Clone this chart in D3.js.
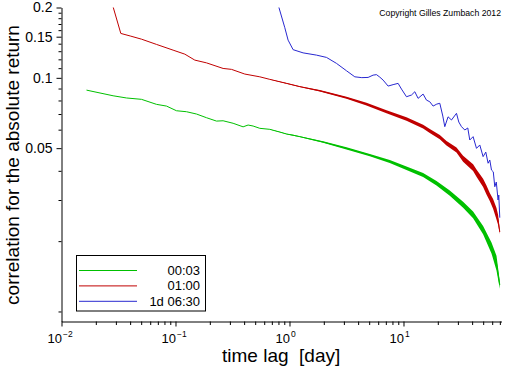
<!DOCTYPE html>
<html>
<head>
<meta charset="utf-8">
<script src="https://cdn.jsdelivr.net/npm/d3@7"></script>
<style>
  body { margin: 0; background: #fff; }
  svg { display: block; }
  text { font-family: "Liberation Sans", Arial, sans-serif; fill: #000; }
</style>
</head>
<body>
<div id="chart"></div>
<script>
// time lag in days, correlation of |r|, and spread of the noisy band (in %)
const lag0003 = [0.01657, 0.02836, 0.03717, 0.05031, 0.06813, 0.0834, 0.1020, 0.1249, 0.1528, 0.187, 0.2289, 0.2616, 0.3201, 0.3917, 0.4334, 0.4794, 0.549, 0.6718, 0.8222, 0.9412, 1.0755, 1.231, 1.971, 3.162, 5.063, 7.58, 10.62, 14.86, 19.48, 25.47, 33.33, 40.79, 49.92, 59.15, 65.43, 69.93];
const corr0003 = [0.0886, 0.0838, 0.0820, 0.0809, 0.0770, 0.0757, 0.0723, 0.0716, 0.0700, 0.0675, 0.0653, 0.0655, 0.0639, 0.0617, 0.0628, 0.0622, 0.0608, 0.0602, 0.0586, 0.0575, 0.0568, 0.0560, 0.0531, 0.0499, 0.0467, 0.0438, 0.0410, 0.0384, 0.0354, 0.0321, 0.0286, 0.0259, 0.0223, 0.0187, 0.0161, 0.0130];
const spread0003 = [0, 0, 0, 0, 0, 0, 0, 0, 0, 0, 0, 0, 0, 0, 0, 0, 0, 0.2, 0.3, 0.3, 0.4, 0.4, 0.7, 1.0, 1.2, 1.5, 1.7, 2.0, 2.3, 2.6, 3.0, 3.4, 4.2, 5.5, 7.5, 4];

const lag0100 = [0.0268, 0.03313, 0.04054, 0.05031, 0.06813, 0.09526, 0.1207, 0.1477, 0.187, 0.2616, 0.3099, 0.4054, 0.549, 0.6718, 0.9412, 1.231, 1.844, 3.162, 4.736, 7.094, 10.62, 14.86, 17.01, 20.82, 23.84, 29.17, 33.33, 40.79, 43.69, 49.92, 53.47, 57.15, 61.09, 65.43, 67.56, 69.93];
const corr0100 = [0.2213, 0.1549, 0.1508, 0.1464, 0.1390, 0.1314, 0.1263, 0.1191, 0.1159, 0.1097, 0.1087, 0.1038, 0.1010, 0.0985, 0.0947, 0.0917, 0.0880, 0.0822, 0.0772, 0.0716, 0.0666, 0.0618, 0.0592, 0.0558, 0.0525, 0.0491, 0.0450, 0.0413, 0.0391, 0.0355, 0.0331, 0.0309, 0.0289, 0.0262, 0.0247, 0.0219];
const spread0100 = [0, 0, 0, 0, 0, 0, 0, 0, 0, 0, 0, 0, 0, 0.2, 0.3, 0.4, 0.7, 1.0, 1.3, 1.5, 1.7, 1.8, 2.0, 2.1, 2.3, 2.4, 3.0, 3.4, 3.6, 4.2, 4.5, 4.1, 4.9, 5.8, 5, 2];

const lag0630 = [0.774, 0.9095, 0.9721, 1.0755, 1.316, 1.725, 2.111, 2.584, 3.162, 3.74, 4.307, 4.892, 5.411, 5.797, 6.197, 6.624, 7.327, 8.105, 8.967, 9.605, 10.62, 11.75, 12.57, 13.43, 14.86, 15.91, 17.01, 18.18, 19.6, 20.82, 22.12, 23.03, 24.61, 26.37, 29.17, 30.55, 32.27, 34.49, 36.64, 38.15, 40.79, 43.69, 46.69, 49.92, 52.72, 55.23, 57.15, 59.15, 61.33, 63.23, 65.16, 67.56, 68.55, 69.93];
const corr0630 = [0.2149, 0.1639, 0.1450, 0.1320, 0.1279, 0.1251, 0.1223, 0.1153, 0.1072, 0.1010, 0.1002, 0.1004, 0.1027, 0.1032, 0.1007, 0.0978, 0.0922, 0.0935, 0.0947, 0.0895, 0.0830, 0.0844, 0.0872, 0.0817, 0.0852, 0.0803, 0.0790, 0.0757, 0.0772, 0.0778, 0.0686, 0.0618, 0.0681, 0.0660, 0.0705, 0.0647, 0.0618, 0.0598, 0.0610, 0.0542, 0.0560, 0.0499, 0.0516, 0.0460, 0.0481, 0.0431, 0.0445, 0.0403, 0.0396, 0.0342, 0.0358, 0.0300, 0.0315, 0.0252];

const seriesNames = ["00:03", "01:00", "1d 06:30"];
const seriesColors = ["#00c000", "#c00000", "#2828d0"];

const yLabelTicks = [0.05, 0.1, 0.15, 0.2];
const yMinorTicks = d3.range(1, 21).map(i => i / 100);
const xDecades = [-2, -1, 0, 1];

const width = 512, height = 366;
const svg = d3.select("#chart").append("svg").attr("width", width).attr("height", height);

const x = d3.scaleLog().domain([0.01, 72.4]).range([61.5, 501.5]);
const y = d3.scaleLog().domain([0.00906, 0.2]).range([321.5, 7.5]);

svg.append("defs").append("clipPath").attr("id", "plot")
  .append("rect").attr("x", 61.5).attr("y", 7.5).attr("width", 440).attr("height", 314);

const series = [
  { lag: lag0003, corr: corr0003, spread: spread0003 },
  { lag: lag0100, corr: corr0100, spread: spread0100 },
  { lag: lag0630, corr: corr0630, spread: null }
].map((s, i) => ({
  name: seriesNames[i],
  color: seriesColors[i],
  points: s.lag.map((l, j) => ({ lag: l, corr: s.corr[j], s: s.spread ? s.spread[j] : 0 }))
}));

const line = d3.line().x(d => x(d.lag)).y(d => y(d.corr));
const band = d3.area().x(d => x(d.lag))
  .y0(d => y(d.corr / (1 + d.s / 100)))
  .y1(d => y(d.corr * (1 + d.s / 100)));

const g = svg.append("g").attr("clip-path", "url(#plot)");
series.forEach(s => {
  const noisy = s.points.filter(d => d.s > 0);
  if (noisy.length) g.append("path").attr("d", band(noisy)).attr("fill", s.color);
  g.append("path").attr("d", line(s.points)).attr("fill", "none")
    .attr("stroke", s.color).attr("stroke-width", 1);
});

// x axis
const xMinor = [];
xDecades.forEach(k => { for (let m = 2; m <= 9; m++) { const v = m * Math.pow(10, k); if (v <= 72.4) xMinor.push(v); } });
svg.append("g").attr("transform", "translate(0,321.5)")
  .call(d3.axisBottom(x).tickValues(xMinor).tickSize(3.5).tickSizeOuter(0).tickFormat(""))
  .call(a => a.select(".domain").attr("stroke", "#000"));
const xMaj = svg.append("g").attr("transform", "translate(0,321.5)")
  .call(d3.axisBottom(x).tickValues(xDecades.map(k => Math.pow(10, k))).tickSize(5).tickSizeOuter(0).tickFormat(""));
xMaj.select(".domain").remove();

const xLab = svg.append("g");
xDecades.forEach(k => {
  xLab.append("text").attr("x", x(Math.pow(10, k)) + 0.5).attr("y", 342.5)
    .attr("text-anchor", "end").style("font-family", "'Liberation Sans Narrow', 'Liberation Sans', sans-serif")
    .attr("font-size", 13).text("10");
  xLab.append("text").attr("x", x(Math.pow(10, k)) + 1.5).attr("y", 336.5)
    .attr("font-size", 8.5).text(k < 0 ? "\u2212" + (-k) : String(k));
});

// y axis
svg.append("g").attr("transform", "translate(61.5,0)")
  .call(d3.axisLeft(y).tickValues(yMinorTicks.filter(v => !yLabelTicks.includes(v))).tickSize(3).tickSizeOuter(0).tickFormat(""))
  .call(a => a.select(".domain").attr("stroke", "#000"));
const yMaj = svg.append("g").attr("transform", "translate(61.5,0)")
  .call(d3.axisLeft(y).tickValues(yLabelTicks).tickSize(5).tickPadding(4).tickFormat(d => String(d)));
yMaj.select(".domain").remove();
yMaj.selectAll("text").attr("font-size", 14).style("font-family", "'Liberation Sans', sans-serif").attr("fill", "#111");

// titles
svg.append("text").attr("x", 222).attr("y", 362).attr("font-size", 19)
  .style("white-space", "pre").text("time lag  [day]");
svg.append("text").attr("transform", "translate(18.5,165) rotate(-90)")
  .attr("text-anchor", "middle").attr("font-size", 19).text("correlation for the absolute return");
svg.append("text").attr("x", 501).attr("y", 16).attr("text-anchor", "end")
  .attr("font-size", 8.7).text("Copyright Gilles Zumbach 2012");

// legend
const leg = svg.append("g");
leg.append("rect").attr("x", 76.5).attr("y", 255.5).attr("width", 129).attr("height", 55.5)
  .attr("fill", "#fff").attr("stroke", "#000");
series.forEach((s, i) => {
  const ly = 270.5 + i * 15.4;
  leg.append("line").attr("x1", 79).attr("x2", 137).attr("y1", ly).attr("y2", ly)
    .attr("stroke", s.color).attr("stroke-width", 1);
  leg.append("text").attr("x", 200).attr("y", ly + 4.5).attr("text-anchor", "end")
    .attr("font-size", 13).text(s.name);
});
</script>
</body>
</html>
